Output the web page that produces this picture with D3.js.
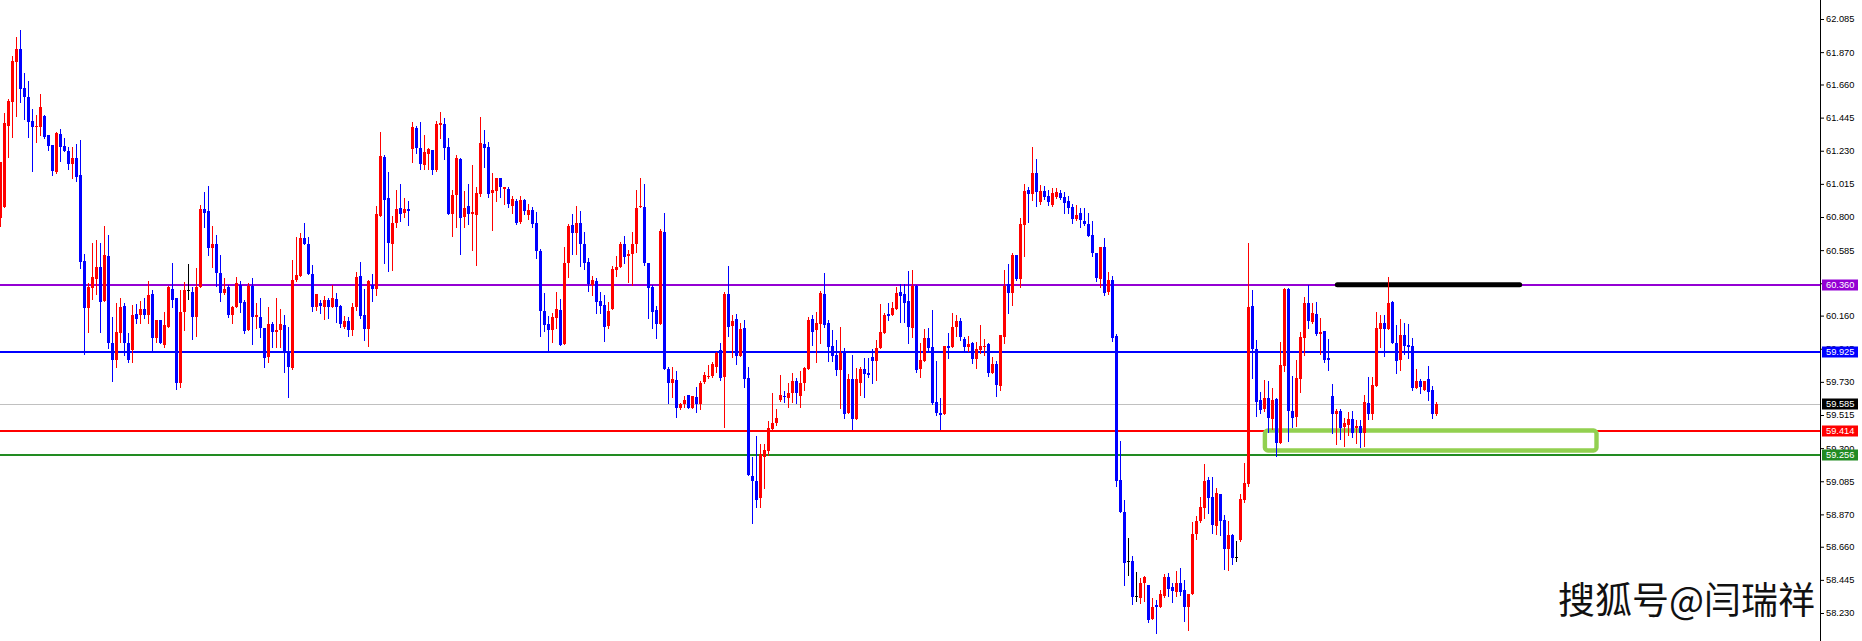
<!DOCTYPE html>
<html>
<head>
<meta charset="utf-8">
<script src="https://cdn.jsdelivr.net/npm/d3@7"></script>
<style>
  body { margin: 0; background: #fff; overflow: hidden; }
  svg { display: block; }
</style>
</head>
<body>
<div id="chart"></div>
<script>
// candle data, one value per bar (oldest first)
const openP = [
  60.793,60.865,61.390,61.546,61.806,61.891,61.637,61.579,61.423,61.384,61.384,61.455,61.333,61.268,61.092,61.339,61.261,61.229,61.144,61.183,
  61.073,60.515,60.209,60.339,60.398,60.476,60.255,60.547,59.983,59.872,60.048,60.222,59.983,59.937,60.170,60.164,60.203,60.164,60.300,60.015,
  60.132,59.970,60.087,60.333,60.274,59.723,60.183,60.326,60.313,60.151,60.346,60.852,60.839,60.599,60.625,60.437,60.307,60.346,60.164,60.216,
  60.359,60.248,60.067,60.352,60.151,60.151,60.080,59.892,60.106,60.054,60.067,60.100,59.931,59.820,60.391,60.417,60.664,60.625,60.430,60.216,
  60.242,60.216,60.261,60.216,60.268,60.222,60.087,60.125,60.067,60.216,60.417,60.164,60.074,60.359,60.333,60.806,61.190,60.923,60.625,60.762,
  60.858,60.826,60.852,61.242,61.377,61.248,61.138,61.209,61.235,61.105,61.397,61.403,61.255,60.819,60.943,61.177,60.800,60.871,60.819,60.813,
  60.949,61.274,61.255,60.956,60.969,61.053,60.982,60.982,60.871,60.904,60.768,60.910,60.813,60.845,60.762,60.580,60.190,60.106,60.067,60.144,
  60.196,59.976,60.502,60.749,60.697,60.762,60.625,60.508,60.359,60.385,60.255,60.229,60.093,60.203,60.456,60.476,60.625,60.547,60.560,60.625,
  60.865,60.865,60.502,60.346,60.196,60.106,60.703,59.814,59.723,59.742,59.560,59.586,59.645,59.560,59.632,59.586,59.729,59.762,59.768,59.827,
  59.937,59.762,60.300,60.093,60.138,59.898,60.080,59.755,59.119,59.087,58.976,59.243,59.282,59.425,59.464,59.612,59.638,59.625,59.658,59.736,
  59.638,59.723,59.814,60.138,60.067,60.106,60.300,60.112,59.963,59.905,59.807,59.918,59.528,59.749,59.489,59.723,59.814,59.788,59.892,59.866,
  59.950,60.048,60.170,60.164,60.203,60.313,60.300,60.255,60.080,60.352,59.814,59.866,60.015,59.957,59.599,59.528,59.521,59.963,59.957,60.087,
  60.125,60.009,59.957,59.983,59.879,59.937,59.957,59.976,59.788,59.846,59.703,60.022,60.365,60.307,60.554,60.398,60.749,60.975,60.949,61.086,
  60.897,60.969,60.936,60.878,60.930,60.956,60.930,60.904,60.865,60.787,60.826,60.775,60.755,60.684,60.567,60.398,60.606,60.313,60.391,60.028,
  59.093,58.885,58.568,58.568,58.340,58.327,58.425,58.412,58.191,58.282,58.269,58.340,58.464,58.399,58.366,58.425,58.379,58.269,58.353,58.743,
  58.827,58.911,59.093,58.983,58.795,59.002,58.834,58.646,58.737,58.594,58.704,58.963,59.067,60.222,59.944,59.612,59.554,59.625,59.489,59.619,
  59.334,59.833,60.333,59.541,59.502,59.749,60.015,60.242,60.119,60.170,60.041,60.060,59.885,59.638,59.521,59.541,59.438,59.451,59.489,59.431,
  59.444,59.399,59.593,59.521,59.703,60.074,60.112,60.074,60.248,59.983,59.872,60.035,59.970,59.963,59.690,59.736,59.677,59.749,59.677,59.521
];
const highP = [
  61.157,61.475,61.566,61.845,61.968,62.013,61.735,61.683,61.501,61.462,61.598,61.462,61.333,61.268,61.352,61.371,61.313,61.255,61.255,61.274,
  61.300,60.560,60.372,60.632,60.651,60.632,60.742,60.684,60.151,60.242,60.274,60.242,60.048,60.229,60.235,60.255,60.274,60.385,60.326,60.132,
  60.132,60.183,60.352,60.502,60.274,60.326,60.378,60.495,60.346,60.469,60.878,60.962,61.001,60.742,60.684,60.554,60.404,60.359,60.222,60.411,
  60.385,60.261,60.372,60.404,60.242,60.274,60.080,60.216,60.119,60.274,60.203,60.164,60.087,60.521,60.671,60.697,60.762,60.671,60.489,60.300,
  60.261,60.287,60.274,60.359,60.307,60.229,60.157,60.151,60.242,60.443,60.508,60.333,60.391,60.430,60.871,61.352,61.203,61.092,60.806,60.975,
  61.014,60.923,60.904,61.416,61.390,61.416,61.333,61.248,61.235,61.423,61.481,61.442,61.313,60.975,61.203,61.183,60.969,61.014,61.138,60.995,
  61.449,61.365,61.287,61.086,61.053,61.053,60.995,60.995,60.936,60.917,60.936,60.917,60.884,60.865,60.832,60.593,60.307,60.157,60.177,60.313,
  60.268,60.606,60.755,60.819,60.871,60.839,60.703,60.534,60.417,60.404,60.313,60.294,60.248,60.482,60.547,60.638,60.677,60.586,60.703,60.975,
  61.053,61.014,60.502,60.359,60.222,60.723,60.826,59.827,59.827,59.801,59.593,59.638,59.645,59.638,59.697,59.736,59.794,59.840,59.859,59.924,
  59.983,60.313,60.482,60.164,60.170,60.112,60.132,59.827,59.243,59.379,59.327,59.327,59.477,59.658,59.554,59.775,59.671,59.723,59.788,59.755,
  59.801,59.827,60.151,60.164,60.183,60.320,60.437,60.132,60.067,60.002,60.087,59.950,59.781,59.905,59.820,59.827,59.885,59.885,59.944,60.002,
  60.235,60.177,60.242,60.248,60.346,60.365,60.365,60.450,60.456,60.359,59.983,60.074,60.080,60.196,59.866,59.625,59.963,60.048,60.177,60.164,
  60.144,60.022,60.028,59.989,59.989,60.100,60.009,59.983,59.892,59.866,60.035,60.456,60.495,60.567,60.554,60.793,61.014,60.995,61.255,61.177,
  61.008,61.001,60.975,60.988,60.988,60.975,60.962,60.936,60.884,60.878,60.858,60.858,60.826,60.775,60.567,60.606,60.664,60.443,60.417,60.041,
  59.347,58.963,58.717,58.600,58.496,58.457,58.470,58.412,58.327,58.314,58.379,58.483,58.490,58.425,58.503,58.522,58.444,58.353,58.821,58.859,
  58.983,59.197,59.113,59.113,59.041,59.002,58.866,58.827,58.743,58.698,59.002,59.204,60.632,60.326,60.002,59.664,59.742,59.736,59.690,59.625,
  59.989,60.339,60.339,59.768,59.872,60.054,60.281,60.359,60.242,60.248,60.144,60.060,60.009,59.716,59.554,59.554,59.495,59.534,59.541,59.483,
  59.483,59.645,59.762,59.762,60.183,60.164,60.164,60.411,60.255,60.100,60.138,60.112,60.106,60.015,59.814,59.749,59.736,59.833,59.703,59.599
];
const lowP = [
  60.742,60.865,61.190,61.320,61.455,61.546,61.436,61.320,61.099,61.287,61.333,61.313,61.235,61.073,61.086,61.164,61.229,61.112,61.053,61.034,
  60.469,59.911,60.054,60.268,60.300,60.054,60.255,59.950,59.736,59.827,59.989,59.905,59.859,59.859,60.112,60.112,60.144,60.112,59.937,59.989,
  59.983,59.957,60.087,60.216,59.684,59.697,60.067,60.268,60.009,60.028,60.346,60.736,60.554,60.476,60.352,60.255,60.300,60.151,60.112,60.216,
  60.183,60.048,60.067,59.976,60.080,60.022,59.827,59.859,59.957,59.957,59.957,59.794,59.632,59.814,60.385,60.417,60.625,60.430,60.190,60.196,
  60.177,60.138,60.144,60.216,60.119,60.087,60.080,60.028,60.035,60.196,60.144,60.002,59.963,60.255,60.294,60.806,60.502,60.450,60.456,60.736,
  60.775,60.800,60.749,61.157,61.216,61.112,61.112,61.112,61.079,61.099,61.313,61.177,60.819,60.677,60.736,60.560,60.736,60.755,60.586,60.489,
  60.936,61.125,60.930,60.716,60.904,60.930,60.884,60.865,60.826,60.755,60.762,60.819,60.787,60.736,60.534,60.028,60.060,59.937,59.989,60.080,
  59.970,59.976,60.411,60.560,60.560,60.482,60.463,60.320,60.294,60.177,60.177,59.996,60.080,60.203,60.417,60.476,60.502,60.378,60.359,60.573,
  60.865,60.489,60.144,60.080,60.015,60.106,59.814,59.593,59.632,59.502,59.554,59.567,59.560,59.560,59.534,59.554,59.723,59.755,59.762,59.794,
  59.742,59.438,60.028,59.892,59.846,59.898,59.697,59.126,58.815,58.918,58.918,59.041,59.256,59.418,59.451,59.606,59.599,59.567,59.599,59.593,
  59.567,59.677,59.814,59.970,59.859,59.983,60.087,59.866,59.866,59.775,59.560,59.495,59.528,59.425,59.489,59.645,59.632,59.762,59.723,59.742,
  59.950,60.048,60.132,60.164,60.203,60.119,60.119,59.983,60.022,59.794,59.762,59.866,59.937,59.586,59.515,59.425,59.521,59.885,59.957,60.028,
  60.002,59.937,59.931,59.853,59.820,59.918,59.905,59.768,59.788,59.638,59.677,59.983,60.177,60.229,60.391,60.346,60.547,60.768,60.910,60.871,
  60.884,60.917,60.878,60.871,60.923,60.917,60.826,60.826,60.762,60.781,60.736,60.749,60.677,60.547,60.385,60.346,60.294,60.300,59.996,59.054,
  58.885,58.412,58.477,58.288,58.308,58.295,58.308,58.172,58.191,58.101,58.269,58.334,58.340,58.301,58.340,58.347,58.178,58.120,58.353,58.711,
  58.821,58.846,58.879,58.750,58.743,58.737,58.516,58.509,58.548,58.568,58.698,58.950,59.054,59.755,59.508,59.528,59.541,59.405,59.425,59.249,
  59.334,59.801,59.347,59.438,59.444,59.664,59.905,60.080,60.112,60.035,59.911,59.859,59.807,59.399,59.327,59.360,59.314,59.386,59.373,59.334,
  59.308,59.314,59.489,59.489,59.703,59.957,59.898,60.074,59.983,59.788,59.807,59.911,59.885,59.677,59.690,59.658,59.677,59.612,59.495,59.515
];
const closeP = [
  61.157,61.410,61.553,61.813,61.891,61.631,61.579,61.416,61.384,61.390,61.514,61.320,61.261,61.099,61.346,61.255,61.229,61.144,61.183,61.060,
  60.508,60.209,60.346,60.411,60.476,60.248,60.554,59.983,59.872,60.054,60.216,59.983,59.872,60.164,60.138,60.203,60.164,60.294,60.015,60.132,
  59.983,60.100,60.346,60.261,59.723,60.183,60.326,60.326,60.151,60.346,60.852,60.826,60.599,60.625,60.437,60.307,60.333,60.164,60.216,60.372,
  60.242,60.060,60.352,60.151,60.164,60.080,59.885,60.106,60.054,60.067,60.106,59.931,59.827,60.391,60.424,60.664,60.625,60.430,60.216,60.300,
  60.222,60.261,60.216,60.274,60.216,60.106,60.125,60.067,60.216,60.411,60.157,60.074,60.385,60.333,60.819,61.196,60.910,60.632,60.762,60.852,
  60.819,60.852,60.839,61.384,61.248,61.144,61.222,61.242,61.105,61.403,61.410,61.248,60.819,60.943,61.183,60.793,60.858,60.819,60.832,60.956,
  61.281,61.248,60.949,60.975,61.053,60.995,60.995,60.884,60.917,60.762,60.910,60.839,60.845,60.755,60.580,60.190,60.100,60.067,60.151,60.203,
  59.970,60.502,60.742,60.697,60.762,60.625,60.502,60.365,60.391,60.248,60.222,60.087,60.190,60.463,60.476,60.625,60.541,60.560,60.625,60.858,
  60.871,60.502,60.339,60.183,60.106,60.710,59.814,59.723,59.749,59.560,59.586,59.612,59.560,59.638,59.586,59.723,59.775,59.768,59.846,59.918,
  59.755,60.300,60.087,60.125,59.898,60.074,59.749,59.126,59.087,58.963,59.262,59.288,59.431,59.464,59.495,59.645,59.632,59.658,59.736,59.658,
  59.723,59.820,60.132,60.054,60.112,60.307,60.100,59.957,59.898,59.807,59.918,59.521,59.749,59.489,59.749,59.814,59.781,59.775,59.866,59.950,
  60.054,60.164,60.157,60.209,60.307,60.287,60.242,60.087,60.352,59.807,59.872,60.015,59.950,59.593,59.528,59.515,59.963,59.950,60.087,60.125,
  60.022,59.957,59.976,59.879,59.944,59.963,59.963,59.788,59.846,59.710,60.035,60.352,60.307,60.554,60.398,60.755,60.969,60.949,61.086,60.962,
  60.969,60.930,60.897,60.956,60.962,60.923,60.891,60.858,60.787,60.813,60.781,60.755,60.677,60.567,60.404,60.606,60.307,60.391,60.015,59.087,
  58.885,58.555,58.568,58.334,58.340,58.425,58.464,58.185,58.269,58.269,58.353,58.464,58.386,58.373,58.425,58.366,58.269,58.353,58.743,58.827,
  58.918,59.087,58.976,58.802,59.009,58.827,58.646,58.737,58.587,58.594,58.970,59.074,60.216,59.944,59.599,59.547,59.625,59.495,59.612,59.334,
  59.840,60.333,59.541,59.495,59.755,60.022,60.242,60.125,60.177,60.041,60.054,59.872,59.872,59.521,59.541,59.431,59.464,59.489,59.399,59.444,
  59.399,59.599,59.521,59.710,60.080,60.112,60.074,60.242,59.983,59.866,60.035,59.963,59.957,59.690,59.736,59.697,59.736,59.664,59.521,59.585
];

// price axis labels
const tickValues = [62.085, 61.870, 61.660, 61.445, 61.230, 61.015, 60.800, 60.585, 60.370, 60.160,
                    59.945, 59.730, 59.515, 59.300, 59.085, 58.870, 58.660, 58.445, 58.230];

// horizontal levels drawn on the chart
const levelPrices = [60.360, 59.925, 59.585, 59.414, 59.256];
const levelColors = ["#9400d3", "#0000ff", "#c0c0c0", "#ff0000", "#228b22"];
const levelLabelBg = ["#9400d3", "#0000ff", "#000000", "#ff0000", "#228b22"];

// annotations: support zone box and resistance stroke (bar index / price)
const zoneIdx = [316.1, 399.0];
const zonePrice = [59.414, 59.285];
const resistIdx = [334.2, 379.8];
const resistPrice = 60.360;

const watermark = "搜狐号@闫瑞祥";

const W = 1862, H = 641, axisX = 1820;

const svg = d3.select("#chart").append("svg")
  .attr("width", W)
  .attr("height", H);

svg.append("rect").attr("width", W).attr("height", H).attr("fill", "#fff");

// 4 px per bar
const x = d3.scaleLinear().domain([0, 455]).range([0.5, axisX + 0.5]);
const y = d3.scaleLinear().domain([58.230, 62.085]).range([613, 19]);

const bars = d3.range(openP.length).map(i => ({
  i: i, o: openP[i], h: highP[i], l: lowP[i], c: closeP[i]
}));

function barColor(d) {
  if (d.c > d.o) return "#ff0000";
  if (d.c < d.o) return "#0000ff";
  return "#000000";
}

// level lines (chart is drawn in the foreground, so they go first)
svg.append("g")
  .attr("shape-rendering", "crispEdges")
  .selectAll("line")
  .data(levelPrices)
  .enter()
  .append("line")
  .attr("x1", 0)
  .attr("x2", axisX)
  .attr("y1", (d, k) => k == 2 ? Math.round(y(d)) + 0.5 : Math.round(y(d)))
  .attr("y2", (d, k) => k == 2 ? Math.round(y(d)) + 0.5 : Math.round(y(d)))
  .attr("stroke", (d, k) => levelColors[k])
  .attr("stroke-width", (d, k) => k == 2 ? 1 : 2);

// zone box
svg.append("rect")
  .attr("x", x(zoneIdx[0]))
  .attr("y", y(zonePrice[0]))
  .attr("width", x(zoneIdx[1]) - x(zoneIdx[0]))
  .attr("height", y(zonePrice[1]) - y(zonePrice[0]))
  .attr("rx", 3)
  .attr("fill", "none")
  .attr("stroke", "#92d050")
  .attr("stroke-width", 4.4);

// thick resistance stroke
svg.append("line")
  .attr("x1", x(resistIdx[0]))
  .attr("x2", x(resistIdx[1]))
  .attr("y1", y(resistPrice))
  .attr("y2", y(resistPrice))
  .attr("stroke", "#000")
  .attr("stroke-width", 5)
  .attr("stroke-linecap", "round");

// candles
const candles = svg.append("g").attr("shape-rendering", "crispEdges");

candles.selectAll("line.wick")
  .data(bars)
  .enter()
  .append("line")
  .attr("class", "wick")
  .attr("x1", d => x(d.i))
  .attr("x2", d => x(d.i))
  .attr("y1", d => Math.round(y(d.h)))
  .attr("y2", d => Math.round(y(d.l)) + 1)
  .attr("stroke", barColor)
  .attr("stroke-width", 1);

candles.selectAll("rect.body")
  .data(bars)
  .enter()
  .append("rect")
  .attr("class", "body")
  .attr("x", d => x(d.i) - 1.5)
  .attr("y", d => Math.round(y(Math.max(d.o, d.c))))
  .attr("width", 3)
  .attr("height", d => Math.max(1, Math.round(y(Math.min(d.o, d.c))) - Math.round(y(Math.max(d.o, d.c)))))
  .attr("fill", barColor);

// price axis
const yAxis = d3.axisRight(y)
  .tickValues(tickValues)
  .tickSize(4)
  .tickPadding(2)
  .tickFormat(d3.format(".3f"));

const axisG = svg.append("g")
  .attr("transform", "translate(" + axisX + ",0)")
  .call(yAxis);

axisG.select(".domain").remove();
axisG.selectAll("text")
  .attr("font-family", "Liberation Sans, Arial, sans-serif")
  .attr("font-size", "9.3px")
  .attr("fill", "#000");

svg.append("line")
  .attr("x1", axisX + 0.5).attr("x2", axisX + 0.5)
  .attr("y1", 0).attr("y2", H)
  .attr("stroke", "#000")
  .attr("stroke-width", 1)
  .attr("shape-rendering", "crispEdges");

// level labels on the axis
const lab = svg.append("g").selectAll("g")
  .data(levelPrices)
  .enter()
  .append("g")
  .attr("transform", d => "translate(0," + Math.round(y(d)) + ")");

lab.append("rect")
  .attr("x", 1822)
  .attr("y", -5.5)
  .attr("width", 36)
  .attr("height", 11)
  .attr("fill", (d, k) => levelLabelBg[k]);

lab.append("text")
  .attr("x", 1826)
  .attr("dy", "0.35em")
  .attr("font-family", "Liberation Sans, Arial, sans-serif")
  .attr("font-size", "9.3px")
  .attr("fill", "#fff")
  .text(d => d.toFixed(3));

// watermark
svg.append("text")
  .attr("x", 1815)
  .attr("y", 614)
  .attr("text-anchor", "end")
  .attr("font-family", "Noto Sans CJK SC, sans-serif")
  .attr("font-size", "37px")
  .attr("fill", "#111")
  .attr("stroke", "#fff")
  .attr("stroke-width", 1)
  .attr("paint-order", "stroke")
  .text(watermark);
</script>
</body>
</html>
